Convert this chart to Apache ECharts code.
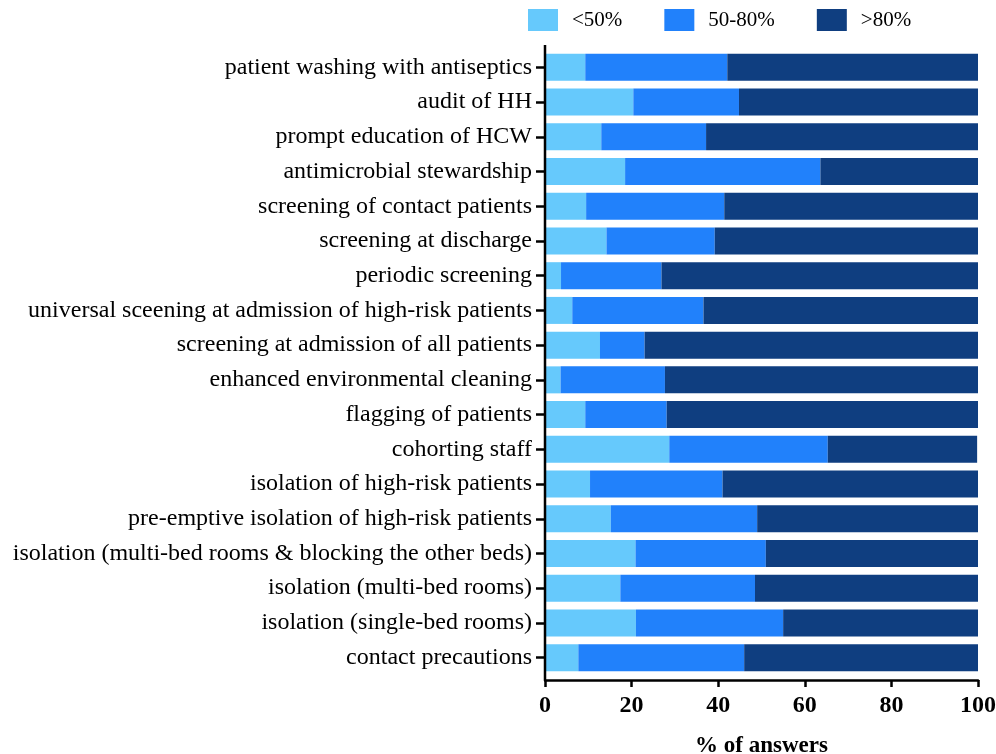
<!DOCTYPE html>
<html>
<head>
<meta charset="utf-8">
<script src="https://cdn.jsdelivr.net/npm/echarts@6/dist/echarts.min.js"></script>
<style>html,body{margin:0;padding:0;background:#fff;overflow:hidden;}#c{width:996px;height:754px;}</style>
</head>
<body>
<div id="c"></div>
<script>
const categories = [
  'patient washing with antiseptics',
  'audit of HH',
  'prompt education of HCW',
  'antimicrobial stewardship',
  'screening of contact patients',
  'screening at discharge',
  'periodic screening',
  'universal sceening at admission of high-risk patients',
  'screening at admission of all patients',
  'enhanced environmental cleaning',
  'flagging of patients',
  'cohorting staff',
  'isolation of high-risk patients',
  'pre-emptive isolation of high-risk patients',
  'isolation (multi-bed rooms & blocking the other beds)',
  'isolation (multi-bed rooms)',
  'isolation (single-bed rooms)',
  'contact precautions'
];
const seriesNames = ['<50%', '50-80%', '>80%'];
const below50 = [9.3, 20.4, 13.0, 18.5, 9.5, 14.2, 3.7, 6.3, 12.7, 3.6, 9.3, 28.7, 10.4, 15.2, 20.9, 17.4, 21.0, 7.7];
const from50to80 = [32.8, 24.4, 24.2, 45.1, 31.9, 25.0, 23.2, 30.3, 10.3, 24.1, 18.8, 36.6, 30.6, 33.8, 30.1, 31.1, 34.0, 38.3];
const above80 = [57.9, 55.2, 62.8, 36.4, 58.6, 60.8, 73.1, 63.4, 77.0, 72.3, 71.9, 34.5, 59.0, 51.0, 49.0, 51.5, 45.0, 54.0];
const xTicks = [0, 20, 40, 60, 80, 100];
const colors = ['#66C9FC', '#2181FB', '#0F3E80'];

const font = 'Liberation Serif, Times New Roman, serif';
const G = {left: 545, right: 18, top: 50, height: 625, containLabel: false, outerBoundsMode: 'none'};
const chart = echarts.init(document.getElementById('c'));
const vals = [below50, from50to80, above80];
chart.setOption({
  animation: false,
  color: colors,
  legend: {
    top: 4, left: 523,
    itemWidth: 30, itemHeight: 22, itemGap: 42,
    icon: 'rect',
    textStyle: {fontFamily: font, fontSize: 21, color: '#000', padding: [0, 0, 0, 9]},
    data: seriesNames
  },
  grid: G,
  xAxis: {
    type: 'value', min: xTicks[0], max: xTicks[xTicks.length - 1], interval: 20,
    offset: 5,
    splitLine: {show: false},
    axisLine: {show: true, lineStyle: {color: '#000', width: 2.5}},
    axisTick: {show: true, length: 7, lineStyle: {color: '#000', width: 2.5}},
    axisLabel: {fontFamily: font, fontSize: 24, fontWeight: 'bold', color: '#000', margin: 14},
    name: '% of answers', nameLocation: 'middle', nameGap: 55,
    nameTextStyle: {fontFamily: font, fontSize: 23, fontWeight: 'bold', color: '#000'}
  },
  yAxis: {
    type: 'category', inverse: true, data: categories,
    axisLine: {show: false},
    axisTick: {show: true, alignWithLabel: true, length: 9, lineStyle: {color: '#000', width: 2.5}},
    axisLabel: {fontFamily: font, fontSize: 24, color: '#000', margin: 13}
  },
  graphic: [{
    type: 'line', z: 10,
    shape: {x1: G.left, y1: G.top - 5, x2: G.left, y2: G.top + G.height + 5},
    style: {stroke: '#000', lineWidth: 2.5}
  }],
  series: seriesNames.map((n, i) => ({
    name: n, type: 'bar', stack: 'total', data: vals[i],
    barWidth: 27,
    itemStyle: {color: colors[i]}
  }))
});
</script>
</body>
</html>
